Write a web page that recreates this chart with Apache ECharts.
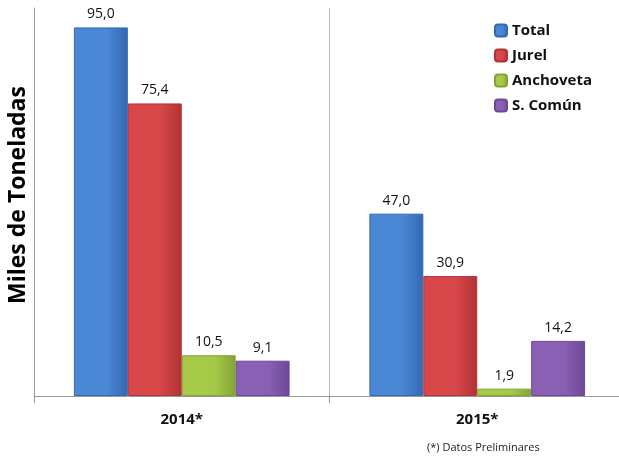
<!DOCTYPE html>
<html>
<head>
  <meta charset="UTF-8">
  <title>Desembarque</title>
  <script src="https://cdn.jsdelivr.net/npm/echarts@6/dist/echarts.min.js"></script>
  <style>
    html, body { margin:0; padding:0; background:#fff; }
    #chart { width:619px; height:457px; }
  </style>
</head>
<body>
<div id="chart"></div>
<script type="text/javascript">
  var years = ['2014*', '2015*'];
  var total = [95.0, 47.0];
  var jurel = [75.4, 30.9];
  var anchoveta = [10.5, 1.9];
  var sComun = [9.1, 14.2];

  var font = '"Open Sans", sans-serif';

  function grad(light, dark){
    return new echarts.graphic.LinearGradient(0, 0, 1, 0, [
      {offset:0, color:light},
      {offset:0.6, color:light},
      {offset:1, color:dark}
    ]);
  }

  function makeSeries(name, data, light, dark){
    return {
      name: name,
      type: 'bar',
      data: data,
      barGap: '0%',
      barCategoryGap: '27%',
      itemStyle: { color: grad(light, dark), borderColor: dark, borderWidth: 1 },
      label: {
        show: true,
        position: 'top',
        distance: 6,
        color: '#111',
        fontFamily: font,
        fontSize: 14,
        formatter: function(p){ return p.value.toFixed(1).replace('.', ','); }
      }
    };
  }

  var chart = echarts.init(document.getElementById('chart'));
  chart.setOption({
    animation: false,
    textStyle: { fontFamily: font },
    grid: { left: 34, right: -6, top: 8, bottom: 61, outerBoundsMode: 'none', containLabel: false },
    legend: {
      orient: 'vertical',
      left: 489,
      top: 18,
      itemWidth: 12,
      itemHeight: 12,
      itemGap: 10,
      textStyle: { fontFamily: font, fontWeight: 'bold', fontSize: 15, color: '#111' },
      data: ['Total', 'Jurel', 'Anchoveta', 'S. Común']
    },
    xAxis: {
      type: 'category',
      data: years,
      axisLine: { lineStyle: { color: '#999' } },
      axisTick: { show: true, length: 7, lineStyle: { color: '#999' } },
      splitLine: { show: true, lineStyle: { color: '#bbb' } },
      axisLabel: { margin: 16, color: '#111', fontWeight: 'bold', fontSize: 15, fontFamily: font }
    },
    yAxis: {
      type: 'value',
      min: 0,
      max: 100,
      axisLine: { show: true, lineStyle: { color: '#999' } },
      axisTick: { show: false },
      axisLabel: { show: false },
      splitLine: { show: false }
    },
    graphic: [{
      type: 'text',
      x: 18,
      y: 195,
      rotation: Math.PI / 2,
      style: {
        text: 'Miles de Toneladas', fontFamily: font, fontWeight: 'bold', fontSize: 23,
        fill: '#000', align: 'center', verticalAlign: 'middle'
      }
    }, {
      type: 'text',
      left: 427,
      top: 442,
      style: { text: '(*) Datos Preliminares', fontFamily: font, fontSize: 11, fill: '#222' }
    }],
    series: [
      makeSeries('Total', total, '#4a88d6', '#3468b2'),
      makeSeries('Jurel', jurel, '#d8474a', '#b03234'),
      makeSeries('Anchoveta', anchoveta, '#a6ca48', '#84a336'),
      makeSeries('S. Común', sComun, '#8a60b5', '#6c4895')
    ]
  });
</script>
</body>
</html>
